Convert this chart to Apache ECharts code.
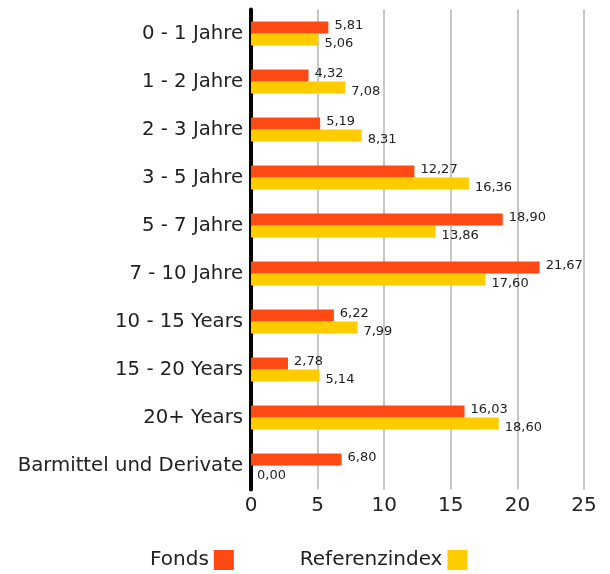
<!DOCTYPE html>
<html><head><meta charset="utf-8">
<script src="https://cdn.jsdelivr.net/npm/echarts@6/dist/echarts.min.js"></script>
<style>html,body{margin:0;padding:0;background:#fff}#c{width:610px;height:574px}</style>
</head><body><div id="c"></div>
<script>
const categories = ["0 - 1 Jahre","1 - 2 Jahre","2 - 3 Jahre","3 - 5 Jahre","5 - 7 Jahre","7 - 10 Jahre","10 - 15 Years","15 - 20 Years","20+ Years","Barmittel und Derivate"];
const fonds = [5.81,4.32,5.19,12.27,18.90,21.67,6.22,2.78,16.03,6.80];
const referenz = [5.06,7.08,8.31,16.36,13.86,17.60,7.99,5.14,18.60,0.00];
const xTicks = [0,5,10,15,20,25];
const FONT = "'DejaVu Sans', sans-serif";
const fmt = p => p.value.toFixed(2).replace('.', ',');
const chart = echarts.init(document.getElementById('c'));
chart.setOption({
  animation:false,
  textStyle:{fontFamily:FONT},
  grid:{left:251,right:26,top:9.5,height:480,containLabel:false},
  legend:{top:545,left:145,align:'right',itemWidth:20,itemHeight:20,itemGap:66,icon:'rect',
    textStyle:{fontSize:20,color:'#222',fontFamily:FONT},
    data:['Fonds','Referenzindex']},
  xAxis:{type:'value',min:xTicks[0],max:xTicks[xTicks.length-1],interval:5,
    axisLine:{show:false},axisTick:{show:false},
    splitLine:{lineStyle:{color:'#c8c8c8',width:2}},
    axisLabel:{fontSize:20,color:'#222',margin:6,fontFamily:FONT}},
  yAxis:{type:'category',data:categories,inverse:true,
    axisLine:{show:true,lineStyle:{color:'#000',width:4}},
    axisTick:{show:false},
    axisLabel:{fontSize:19.7,color:'#222',margin:8,padding:[4,0,0,0],fontFamily:FONT}},
  series:[
    {name:'Fonds',type:'bar',data:fonds,barWidth:12,barGap:'0%',itemStyle:{color:'#FF4A14'},
     label:{show:true,position:'right',distance:6,offset:[0,-1.5],formatter:fmt,fontSize:13,color:'#222',fontFamily:FONT}},
    {name:'Referenzindex',type:'bar',data:referenz,barWidth:12,barGap:'0%',itemStyle:{color:'#FFCC00'},
     label:{show:true,position:'right',distance:6,offset:[0,4.5],formatter:fmt,fontSize:13,color:'#222',fontFamily:FONT}}
  ]
});
</script></body></html>
